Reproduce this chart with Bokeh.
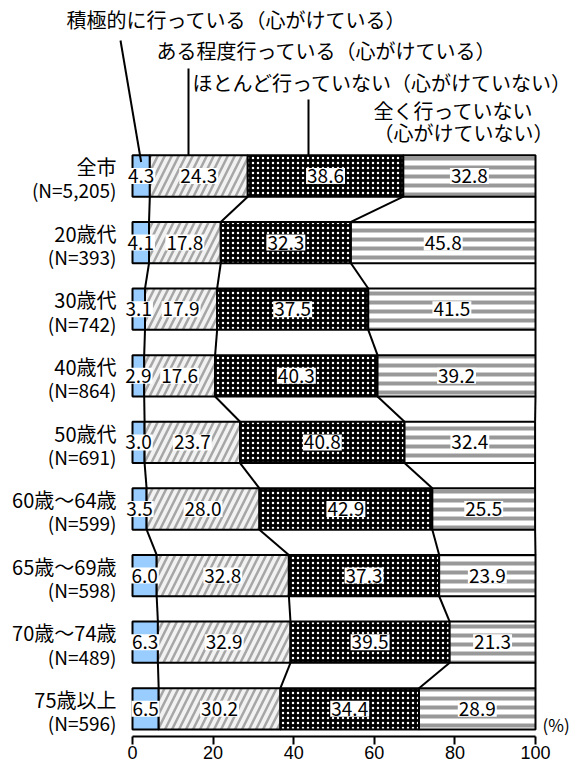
import numpy as np
from bokeh.plotting import figure
from bokeh.models import Range1d, LinearAxis, FixedTicker, Label
from bokeh.embed import file_html
from bokeh.resources import INLINE
from bokeh.core.properties import value

# ---------------- data ----------------
categories = ["全市", "20歳代", "30歳代", "40歳代", "50歳代",
              "60歳～64歳", "65歳～69歳", "70歳～74歳", "75歳以上"]
sample_sizes = ["(N=5,205)", "(N=393)", "(N=742)", "(N=864)", "(N=691)",
                "(N=599)", "(N=598)", "(N=489)", "(N=596)"]
series_names = ["積極的に行っている（心がけている）",
                "ある程度行っている（心がけている）",
                "ほとんど行っていない（心がけていない）",
                "全く行っていない", "（心がけていない）"]
active = [4.3, 4.1, 3.1, 2.9, 3.0, 3.5, 6.0, 6.3, 6.5]
somewhat = [24.3, 17.8, 17.9, 17.6, 23.7, 28.0, 32.8, 32.9, 30.2]
rarely = [38.6, 32.3, 37.5, 40.3, 40.8, 42.9, 37.3, 39.5, 34.4]
never = [32.8, 45.8, 41.5, 39.2, 32.4, 25.5, 23.9, 21.3, 28.9]
x_ticks = [0, 20, 40, 60, 80, 100]
unit_label = "(%)"

# ---------------- layout ----------------
FONT = "Noto Sans CJK JP"
W, H, FH = 572, 766, 736
PX, X0 = 4.03, 132.0      # px per percent, px of 0 %
ROW, Y0 = 66.6, 175.5     # px per row, px of first row centre
BH = 0.62                 # bar thickness (rows)


def dx(px):
    return (px - X0) / PX


def dy(py):
    return (py - Y0) / ROW


p = figure(frame_width=W, frame_height=FH,
           x_range=Range1d(dx(0), dx(W)), y_range=Range1d(dy(FH), dy(0)),
           output_backend="svg", toolbar_location=None,
           x_axis_location=None, y_axis_location=None, min_border=0,
           min_border_bottom=H - FH)
p.outline_line_color = None
p.background_fill_color = "white"
p.border_fill_color = "white"
for g in p.grid:
    g.visible = False

ax = LinearAxis(ticker=FixedTicker(ticks=x_ticks), bounds=(0, 100))
ax.axis_line_width = 2
ax.axis_line_color = "black"
ax.major_tick_line_width = 2
ax.major_tick_line_color = "black"
ax.major_tick_out = 8
ax.major_tick_in = 0
ax.minor_tick_line_color = None
ax.major_label_text_font = "Liberation Sans"
ax.major_label_text_font_size = "18px"
ax.major_label_text_color = "black"
ax.major_label_standoff = 1
p.add_layout(ax, "below")

vals = np.array([active, somewhat, rarely, never])
cum = np.cumsum(vals, axis=0)
left = cum - vals
ys = np.arange(len(categories), dtype=float)

styles = [
    dict(fill_color="#99ccff"),
    dict(fill_color="#f2f2f2", hatch_pattern="/", hatch_color="#a6a6a6",
         hatch_scale=14, hatch_weight=2.5),
    dict(fill_color="black", hatch_pattern=".", hatch_color="white",
         hatch_scale=5, hatch_weight=1),
    dict(fill_color="white", hatch_pattern="-", hatch_color="#999999",
         hatch_scale=9, hatch_weight=4),
]
for k in range(4):
    p.hbar(y=ys, left=left[k], right=cum[k], height=BH,
           line_color="black", line_width=2, **styles[k])

# connectors between consecutive bars
for k in range(4):
    p.segment(x0=cum[k][:-1], y0=ys[:-1] + BH / 2,
              x1=cum[k][1:], y1=ys[1:] - BH / 2,
              line_color="black", line_width=2)

# leader lines from the series names
p.segment(x0=[dx(120), dx(188), dx(308)],
          y0=[dy(40), dy(68), dy(99)],
          x1=[(left[0][0] + cum[0][0]) / 2, dx(188), dx(308)],
          y1=[ys[0] - BH / 2 + 0.1, ys[0] - BH / 2, ys[0] - BH / 2],
          line_color="black", line_width=2)

# value labels
lx = ((left + cum) / 2).ravel()
ly = np.tile(ys, 4)
lt = [f"{v:.1f}" for v in vals.ravel()]
p.text(x=lx, y=ly, text=lt, text_align="center", text_baseline="middle",
       text_font=value(FONT), text_font_size="19px", text_color="black",
       background_fill_color="white", padding=1)

# category labels
p.text(x=dx(116), y=ys - 0.14, text=categories, text_align="right",
       text_baseline="middle", text_font=value(FONT), text_font_size="20px",
       text_color="black")
p.text(x=dx(116), y=ys + 0.21, text=sample_sizes, text_align="right",
       text_baseline="middle", text_font=value(FONT), text_font_size="19px",
       text_color="black")

# series name texts
p.text(x=[dx(66), dx(156), dx(192), dx(373), dx(373)],
       y=[dy(19), dy(50), dy(82), dy(110), dy(132)],
       text=series_names, text_align="left", text_baseline="middle",
       text_font=value(FONT), text_font_size="20px", text_color="black")

p.add_layout(Label(x=dx(542), y=dy(FH), text=unit_label,
                   text_font=FONT, text_font_size="17px",
                   text_align="left", text_baseline="bottom",
                   text_color="black"))

open("out.html", "w").write(file_html(p, INLINE))
